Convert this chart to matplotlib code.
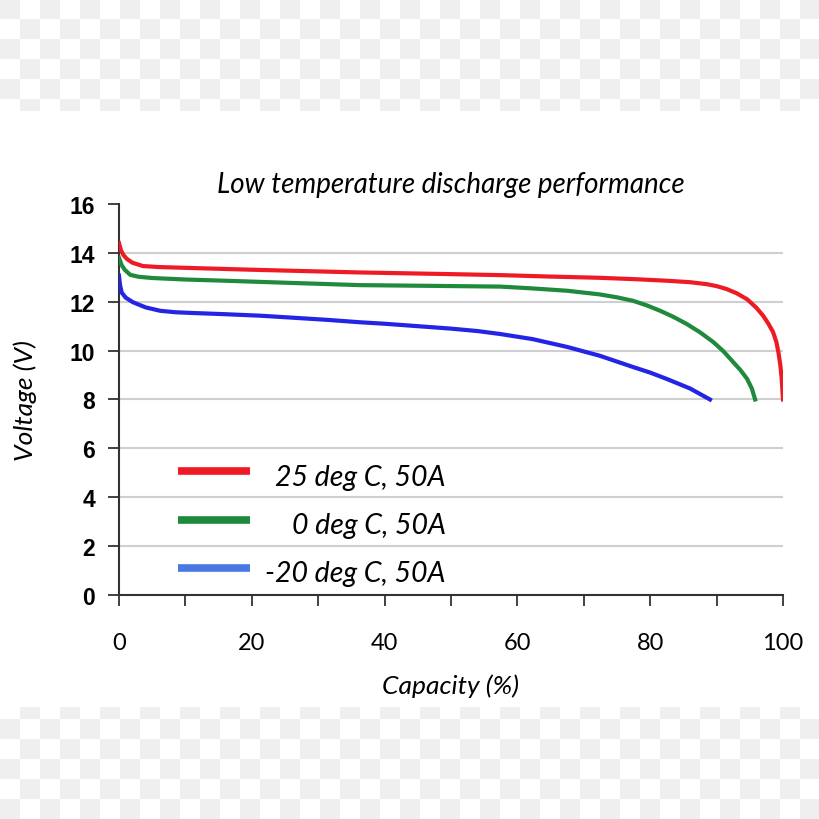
import numpy as np
import matplotlib.pyplot as plt
from matplotlib.ticker import MultipleLocator

# Discharge curves: capacity (%) vs voltage (V)
cap_25 = [0, 0.3, 0.7, 1.2, 2, 3.6, 6, 11, 20, 36, 50, 57.4, 65, 72.4, 78, 82.5, 86,
          88.5, 90, 91.5, 93, 94.6, 96, 97, 97.8, 98.5, 99, 99.3, 99.6, 99.8, 99.9, 100]
volt_25 = [14.4, 14.1, 13.9, 13.75, 13.6, 13.46, 13.42, 13.38, 13.31, 13.2, 13.13, 13.09,
           13.03, 12.98, 12.92, 12.86, 12.8, 12.72, 12.64, 12.52, 12.35, 12.1, 11.75, 11.43,
           11.1, 10.76, 10.35, 9.94, 9.4, 8.84, 8.4, 8.0]

cap_0 = [0, 0.4, 0.9, 1.7, 3, 5.1, 10, 16, 26, 36.3, 47, 57.4, 62, 67.5, 72.4, 75, 77.4,
         79.5, 81.5, 83.5, 85.5, 87.5, 89.5, 91, 92.5, 93.6, 94.6, 95.3, 95.8]
volt_0 = [13.8, 13.5, 13.3, 13.1, 13.02, 12.97, 12.91, 12.86, 12.77, 12.68, 12.65, 12.62,
          12.55, 12.45, 12.3, 12.18, 12.04, 11.85, 11.63, 11.38, 11.09, 10.75, 10.35, 9.98,
          9.53, 9.2, 8.84, 8.45, 8.0]

cap_m20 = [0, 0.15, 0.4, 1, 2.1, 4, 6.2, 8.5, 11.1, 16, 21.2, 26, 31.3, 36.3, 40, 45, 50,
           54, 57.4, 62.3, 67.5, 72.4, 77.4, 80, 82.5, 86, 89]
volt_m20 = [13.07, 12.7, 12.38, 12.17, 11.98, 11.77, 11.63, 11.57, 11.54, 11.49, 11.43,
            11.35, 11.26, 11.16, 11.1, 11.0, 10.9, 10.8, 10.68, 10.47, 10.15, 9.79, 9.33,
            9.1, 8.84, 8.45, 8.0]

labels = ['25 deg C, 50A', '0 deg C, 50A', '-20 deg C, 50A']
line_colors = ['#ee1b24', '#1f8a3b', '#2424e6']
legend_colors = ['#ee1b24', '#1f8a3b', '#4a78e2']

fig = plt.figure(figsize=(8.2, 8.2), dpi=100)

# faint checkerboard bands at top and bottom (background of the source image)
bg = fig.add_axes([0, 0, 1, 1], zorder=-5)
yy, xx = np.mgrid[0:820, 0:820]
board = np.ones((820, 820))
checks = ((xx // 20 + yy // 20) % 2 == 0) & ((yy < 112) | (yy >= 708))
board[checks] = 0.935
bg.imshow(board, cmap='gray', vmin=0, vmax=1, interpolation='nearest', aspect='auto')
bg.axis('off')

ax = fig.add_axes([0.1451, 0.2732, 0.8098, 0.4768])
ax.patch.set_alpha(0)

for x, y, c in zip([cap_25, cap_0, cap_m20], [volt_25, volt_0, volt_m20], line_colors):
    ax.plot(x, y, color=c, lw=3, solid_joinstyle='round', zorder=3)

ax.set_xlim(0, 100)
ax.set_ylim(0, 16)
ax.set_yticks(range(0, 17, 2))
ax.xaxis.set_major_locator(MultipleLocator(20))
ax.xaxis.set_minor_locator(MultipleLocator(10))

ax.yaxis.grid(True, color='#cfcfcf', lw=1.5)
ax.get_ygridlines()[-1].set_visible(False)
ax.set_axisbelow(True)

for s in ['top', 'right']:
    ax.spines[s].set_visible(False)
for s in ['left', 'bottom']:
    ax.spines[s].set_color('#333333')
    ax.spines[s].set_linewidth(1.5)

ax.tick_params(axis='y', length=8, width=1.3, color='#333333', pad=9)
ax.tick_params(axis='x', which='both', length=8, width=1.3, color='#333333', pad=19)
for t in ax.get_yticklabels():
    t.set_fontfamily('Liberation Sans')
    t.set_fontweight('bold')
    t.set_fontsize(16.5)
for t in ax.get_xticklabels():
    t.set_fontfamily('Lato')
    t.set_fontsize(17)

ax.set_title('Low temperature discharge performance', family='Lato', style='italic',
             fontsize=20, pad=9)
ax.set_xlabel('Capacity (%)', family='Lato', style='italic', fontsize=19, labelpad=14)
ax.set_ylabel('Voltage (V)', family='Lato', style='italic', fontsize=19, labelpad=24)

# legend drawn by hand so that the labels are right-aligned
for i, (lab, c) in enumerate(zip(labels, legend_colors)):
    yl = 0.317 - i * 0.124
    ax.plot([0.089, 0.197], [yl, yl], transform=ax.transAxes, color=c, lw=5.5,
            solid_capstyle='butt', clip_on=False)
    ax.text(0.492, yl - 0.014, lab, transform=ax.transAxes, ha='right', va='center',
            family='Lato', style='italic', fontsize=20.5)

fig.savefig('out.png', dpi=100)
